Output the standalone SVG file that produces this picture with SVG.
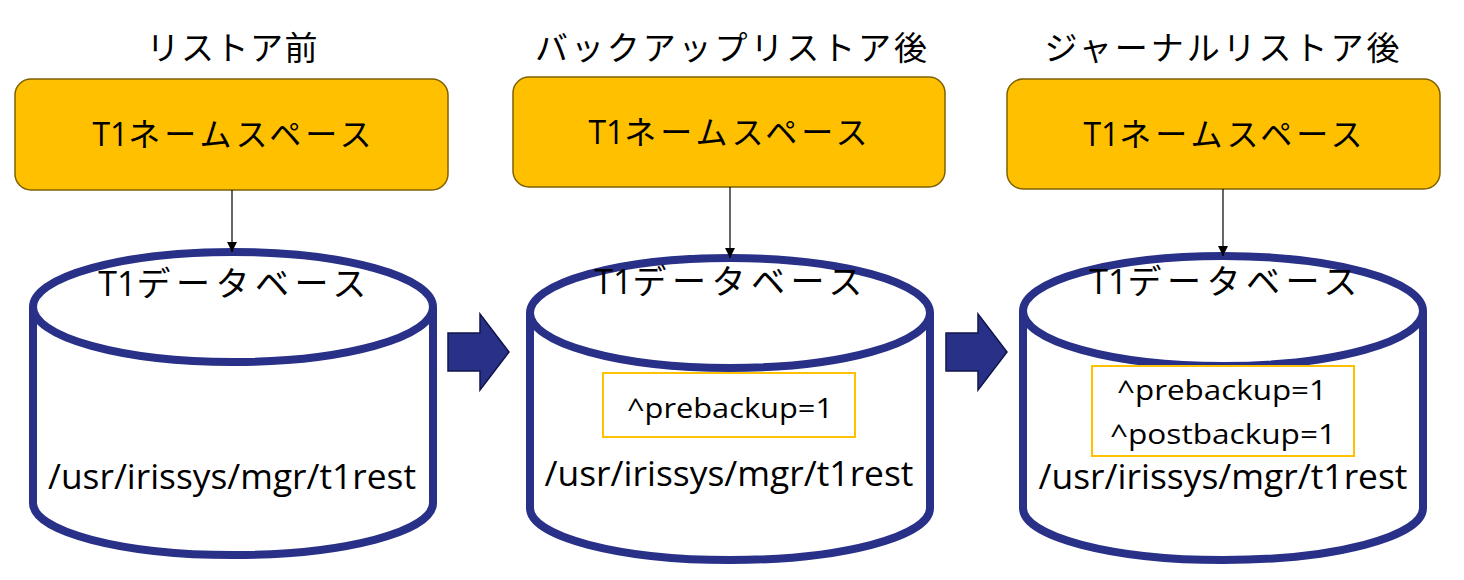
<svg xmlns="http://www.w3.org/2000/svg" width="1464" height="580" viewBox="0 0 1464 580">
<defs>
<style>
.t{font-family:"Open Sans","Noto Sans CJK JP",sans-serif;fill:#000;text-anchor:middle}
.ttl{font-size:33px}
.ns{font-size:32px}
.ns .k{letter-spacing:4px}
.db{font-size:34px}
.db .k{letter-spacing:5.5px}
.path{font-size:35px}
.g{font-size:28px}
.box{fill:#FFC000;stroke:#7F6000;stroke-width:1.5}
.cyl{fill:#fff;stroke:#283087;stroke-width:8}
.gb{fill:#fff;stroke:#FFC000;stroke-width:2}
.conn{stroke:#000;stroke-width:1.2;fill:none}
.blk{fill:#283087;stroke:#10164A;stroke-width:1.5}
</style>
<marker id="ah" viewBox="0 0 10 10" refX="10" refY="5" markerWidth="10" markerHeight="10" markerUnits="userSpaceOnUse" orient="auto"><path d="M0,0L10,5L0,10z" fill="#000"/></marker>
</defs>
<text class="t ttl" x="232" y="60" textLength="171" lengthAdjust="spacing">リストア前</text>
<text class="t ttl" x="731" y="60" textLength="392" lengthAdjust="spacing">バックアップリストア後</text>
<text class="t ttl" x="1222" y="60" textLength="355" lengthAdjust="spacing">ジャーナルリストア後</text>

<g id="ns1"><rect class="box" x="15" y="79" width="433" height="111" rx="16"/><text class="t ns" x="234" y="146">T1<tspan class="k">ネームスペース</tspan></text></g>
<g id="ns2"><rect class="box" x="513" y="77" width="432" height="110" rx="16"/><text class="t ns" x="730" y="144">T1<tspan class="k">ネームスペース</tspan></text></g>
<g id="ns3"><rect class="box" x="1007" y="79" width="433" height="110" rx="16"/><text class="t ns" x="1225" y="146">T1<tspan class="k">ネームスペース</tspan></text></g>

<g id="db1">
<path class="cyl" d="M33,307 A200,55 0 0 1 433,307 V503 A200,52 0 0 1 33,503 Z"/>
<path class="cyl" d="M33,307 A200,55 0 0 0 433,307" fill="none"/>
<text class="t db" x="235" y="296">T1<tspan class="k">データベース</tspan></text>
<text class="t path" x="232" y="489" textLength="368" lengthAdjust="spacingAndGlyphs">/usr/irissys/mgr/t1rest</text>
</g>
<g id="db2">
<path class="cyl" d="M530,313 A200,55 0 0 1 930,313 V508 A200,52 0 0 1 530,508 Z"/>
<path class="cyl" d="M530,313 A200,55 0 0 0 930,313" fill="none"/>
<text class="t db" x="731" y="294">T1<tspan class="k">データベース</tspan></text>
<rect class="gb" x="603" y="373" width="252" height="64"/>
<text class="t g" x="730" y="418" textLength="206" lengthAdjust="spacingAndGlyphs">^prebackup=1</text>
<text class="t path" x="729" y="486" textLength="369" lengthAdjust="spacingAndGlyphs">/usr/irissys/mgr/t1rest</text>
</g>
<g id="db3">
<path class="cyl" d="M1023,311 A200,55 0 0 1 1423,311 V508 A200,52 0 0 1 1023,508 Z"/>
<path class="cyl" d="M1023,311 A200,55 0 0 0 1423,311" fill="none"/>
<text class="t db" x="1226" y="294">T1<tspan class="k">データベース</tspan></text>
<rect class="gb" x="1092" y="366" width="262" height="90"/>
<text class="t g" x="1222" y="400" textLength="210" lengthAdjust="spacingAndGlyphs">^prebackup=1</text>
<text class="t g" x="1223" y="444" textLength="226" lengthAdjust="spacingAndGlyphs">^postbackup=1</text>
<text class="t path" x="1223" y="489" textLength="369" lengthAdjust="spacingAndGlyphs">/usr/irissys/mgr/t1rest</text>
</g>

<g id="connectors">
<line class="conn" x1="232" y1="190" x2="232" y2="252" marker-end="url(#ah)"/>
<line class="conn" x1="730" y1="187" x2="730" y2="258" marker-end="url(#ah)"/>
<line class="conn" x1="1223" y1="189" x2="1223" y2="256" marker-end="url(#ah)"/>
<path class="blk" d="M448,333 H480 V314 L509,352 L480,390 V371 H448 Z"/>
<path class="blk" d="M946,333 H978 V314 L1007,352 L978,390 V371 H946 Z"/>
</g>
</svg>
